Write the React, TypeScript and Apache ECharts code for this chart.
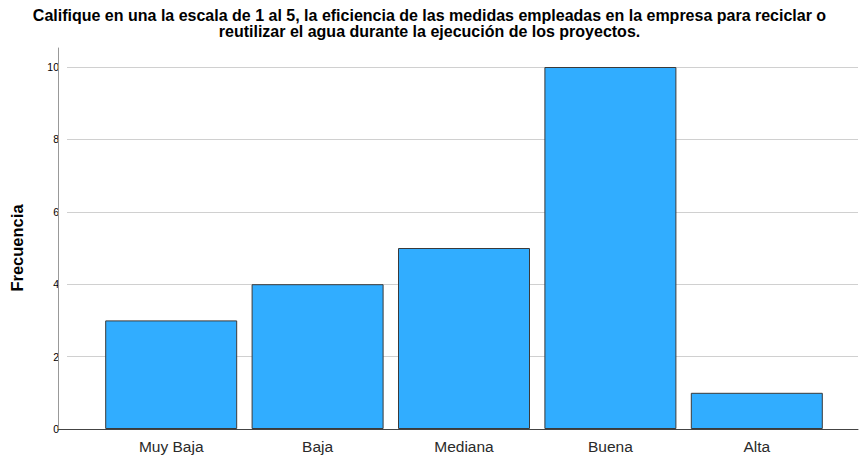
import React, { useEffect, useRef } from "react";
import * as echarts from "echarts";

const categories = ["Muy Baja", "Baja", "Mediana", "Buena", "Alta"];
const frequencies = [3, 4, 5, 10, 1];
const yTicks = [0, 2, 4, 6, 8, 10];
const titleText =
  "Califique en una la escala de 1 al 5, la eficiencia de las medidas empleadas en la empresa para reciclar o\nreutilizar el agua durante la ejecución de los proyectos.";
const yAxisName = "Frecuencia";

const FONT = "'Liberation Sans', Arial, sans-serif";

export default function App() {
  const ref = useRef<HTMLDivElement>(null);
  useEffect(() => {
    if (!ref.current) return;
    const chart = echarts.init(ref.current, null, { renderer: "svg" });
    const yMax = yTicks[yTicks.length - 1];
    chart.setOption({
      animation: false,
      backgroundColor: "#ffffff",
      title: {
        text: titleText,
        left: "center",
        top: 2,
        textStyle: {
          fontFamily: FONT,
          fontSize: 16,
          fontWeight: "bold",
          color: "#000",
          lineHeight: 16,
        },
      },
      grid: [
        { left: 58, right: 1, top: 48, bottom: 28 },
        { left: 58, right: 1, top: 67, bottom: 28 },
        { left: 98, right: 29, top: 67, bottom: 28 },
      ],
      xAxis: [
        {
          gridIndex: 0,
          type: "value",
          min: 0,
          max: 1,
          z: 5,
          axisLine: { show: true, lineStyle: { color: "#444", width: 1 } },
          axisTick: { show: false },
          axisLabel: { show: false },
          splitLine: { show: false },
        },
        {
          gridIndex: 1,
          type: "value",
          min: 0,
          max: 1,
          show: false,
        },
        {
          gridIndex: 2,
          type: "category",
          data: categories,
          axisLine: { show: false },
          axisTick: { show: false },
          axisLabel: {
            fontFamily: FONT,
            fontSize: 15.5,
            color: "#2a2a2a",
            margin: 9,
          },
        },
      ],
      yAxis: [
        {
          gridIndex: 0,
          type: "value",
          min: 0,
          max: yMax * 1.052,
          z: 5,
          axisLine: { show: true, lineStyle: { color: "#999", width: 1 } },
          axisTick: { show: false },
          axisLabel: { show: false },
          splitLine: { show: false },
        },
        {
          gridIndex: 1,
          type: "value",
          min: 0,
          max: yMax,
          interval: 2,
          name: yAxisName,
          nameLocation: "middle",
          nameGap: 42,
          nameTextStyle: {
            fontFamily: FONT,
            fontSize: 16.5,
            fontWeight: "bold",
            color: "#000",
          },
          axisLine: { show: false },
          axisTick: { show: false },
          axisLabel: {
            fontFamily: FONT,
            fontSize: 10.5,
            color: "#000",
            margin: 8,
          },
          splitLine: { show: true, lineStyle: { color: "#d0d0d0", width: 1 } },
        },
        {
          gridIndex: 2,
          type: "value",
          min: 0,
          max: yMax,
          show: false,
        },
      ],
      series: [
        {
          type: "bar",
          xAxisIndex: 2,
          yAxisIndex: 2,
          data: frequencies,
          barWidth: 132,
          itemStyle: {
            color: "#31adff",
            borderColor: "#3a3a3a",
            borderWidth: 1,
          },
        },
      ],
    });
    return () => chart.dispose();
  }, []);
  return (
    <div
      ref={ref}
      style={{ position: "fixed", left: 0, top: 0, width: 859, height: 457 }}
    />
  );
}
